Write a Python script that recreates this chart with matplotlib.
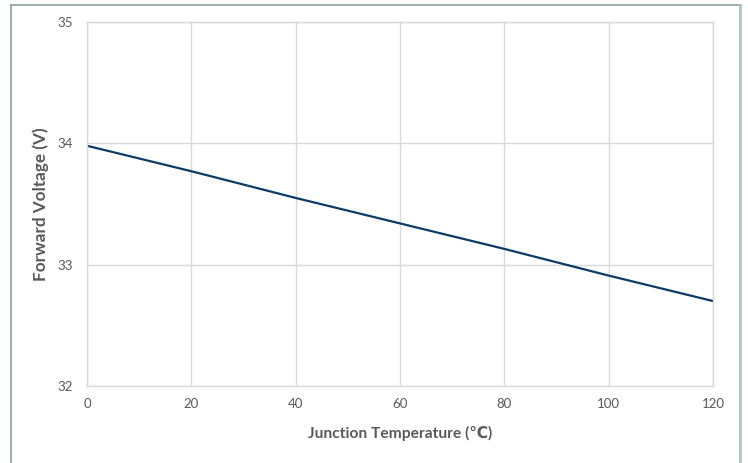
import matplotlib
matplotlib.use('Agg')
import matplotlib.pyplot as plt
from matplotlib.lines import Line2D

# data
temps = [0, 20, 40, 60, 80, 100, 120]
voltages = [33.98, 33.77, 33.55, 33.34, 33.13, 32.91, 32.70]

x_ticks = [0, 20, 40, 60, 80, 100, 120]
y_ticks = [32, 33, 34, 35]

plt.rcParams['font.family'] = ['Lato', 'DejaVu Sans']

fig = plt.figure(figsize=(7.48, 4.63), dpi=100)
ax = fig.add_axes([87 / 748, 1 - 386 / 463, (713 - 87) / 748, (386 - 22) / 463])

ax.plot(temps, voltages, color='#0d3b66', linewidth=1.6)

ax.set_xlim(0, 120)
ax.set_ylim(32, 35)
ax.set_xticks(x_ticks)
ax.set_yticks(y_ticks)
ax.grid(True, color='#d9d9d9', linewidth=1.0)
ax.set_axisbelow(True)
for s in ax.spines.values():
    s.set_color('#d9d9d9')
    s.set_linewidth(1.0)
ax.tick_params(length=0, colors='#595959', labelsize=9.5)
ax.tick_params(axis='x', pad=9)
ax.tick_params(axis='y', pad=10)

ax.set_xlabel('Junction Temperature (\u2103)', fontsize=11.2, fontweight='bold',
              color='#595959', labelpad=11)
ax.set_ylabel('Forward Voltage (V)', fontsize=12.3, fontweight='bold',
              color='#595959', labelpad=6)

# outer frame (chart border)
fig.add_artist(Line2D([11 / 748, 740 / 748], [1 - 5 / 463, 1 - 5 / 463],
                      transform=fig.transFigure, color='#8a9ea2', linewidth=1.2))
fig.add_artist(Line2D([11 / 748, 11 / 748], [0, 1 - 5 / 463],
                      transform=fig.transFigure, color='#8a9ea2', linewidth=1.2))
fig.add_artist(Line2D([740 / 748, 740 / 748], [0, 1 - 5 / 463],
                      transform=fig.transFigure, color='#b2c2c4', linewidth=2.0))

fig.savefig('out.png', dpi=100)
